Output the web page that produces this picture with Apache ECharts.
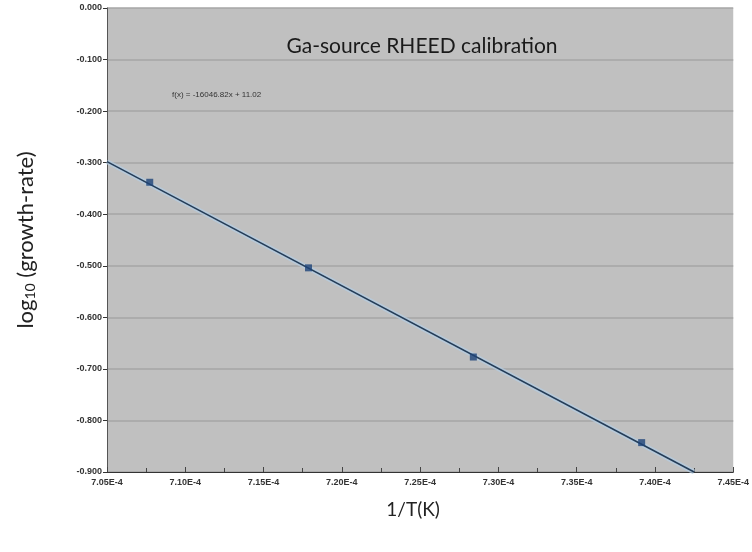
<!DOCTYPE html>
<html><head><meta charset="utf-8">
<script src="https://cdn.jsdelivr.net/npm/echarts@6/dist/echarts.min.js"></script>
<style>html,body{margin:0;padding:0;background:#fff}#c{width:752px;height:552px}</style>
</head><body><div id="c"></div>
<script>
var pointX = [7.0773e-4, 7.1787e-4, 7.2840e-4, 7.3915e-4];
var pointY = [-0.338, -0.504, -0.677, -0.843];
var trendX = [7.05e-4, 7.4250e-4];
var trendY = [-0.298, -0.900];
var titleText = 'Ga-source RHEED calibration';
var eqText = 'f(x) = -16046.82x + 11.02';
var xName = '1/T(K)';

var chart = echarts.init(document.getElementById('c'));
var pts = pointX.map(function(x,i){return [x, pointY[i]];});
var trend = trendX.map(function(x,i){return [x, trendY[i]];});
chart.setOption({
  animation:false,
  backgroundColor:'#fff',
  grid:{left:107, right:16, top:8, bottom:80, show:true, backgroundColor:'#c0c0c0', borderWidth:0},
  title:[
    {text:titleText, left:417, top:31, textAlign:'center', textStyle:{fontFamily:'Lato', fontSize:21, fontWeight:'normal', color:'#1a1a1a'}},
    {text:eqText, left:167, top:86, textStyle:{fontFamily:'Liberation Sans', fontSize:8, fontWeight:'normal', color:'#333'}}
  ],
  xAxis:{
    type:'value', min:7.05e-4, max:7.45e-4, interval:0.05e-4,
    name:xName, nameLocation:'middle', nameGap:28,
    nameTextStyle:{fontFamily:'Lato', fontSize:19, color:'#222', padding:[0,14,0,0]},
    axisLine:{show:true, onZero:false, lineStyle:{color:'#333', width:1}},
    axisTick:{show:true, inside:true, length:5, lineStyle:{color:'#444'}},
    minorTick:{show:true, splitNumber:2, length:4, lineStyle:{color:'#444'}},
    splitLine:{show:false},
    axisLabel:{fontFamily:'Liberation Sans', fontSize:9, fontWeight:'bold', color:'#333', margin:6,
      formatter:function(v){return (v*1e4).toFixed(2)+'E-4';}}
  },
  yAxis:{
    type:'value', min:-0.9, max:0, interval:0.1,
    name:'{a|log}{s|10}{a| (growth-rate)}', nameLocation:'middle', nameGap:70, nameRotate:90,
    nameTextStyle:{rich:{
      a:{fontFamily:'Lato', fontSize:22, color:'#222'},
      s:{fontFamily:'Lato', fontSize:14, color:'#222', verticalAlign:'bottom', padding:[9,0,0,0]}
    }},
    axisLine:{show:true, onZero:false, lineStyle:{color:'#555', width:1}},
    axisTick:{show:true, length:4, lineStyle:{color:'#333'}},
    splitLine:{show:true, lineStyle:{color:'#a6a6a6', width:1.5}},
    axisLabel:{fontFamily:'Liberation Sans', fontSize:9, fontWeight:'bold', color:'#333', margin:5,
      formatter:function(v){return v.toFixed(3);}}
  },
  series:[
    {type:'line', data:trend, symbol:'none', silent:true,
     lineStyle:{color:'#b4cde4', width:5, opacity:0.7}, z:2},
    {type:'line', data:trend, symbol:'none', silent:true,
     lineStyle:{color:'#243d58', width:1.6}, z:3},
    {type:'scatter', data:pts, symbol:'rect', symbolSize:7,
     itemStyle:{color:'#1e4478'}, z:4}
  ]
});
</script></body></html>
